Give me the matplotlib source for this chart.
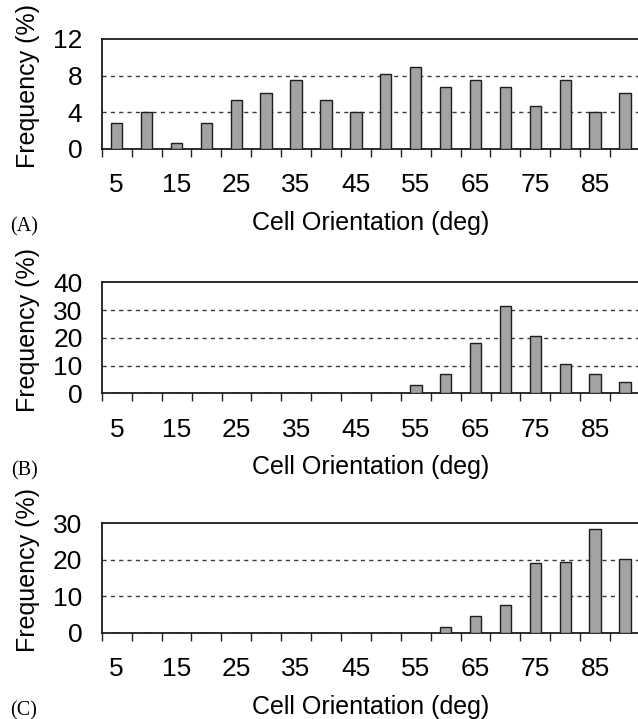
import matplotlib
matplotlib.use("Agg")
import matplotlib.pyplot as plt
import numpy as np

categories = [5, 10, 15, 20, 25, 30, 35, 40, 45, 50, 55, 60, 65, 70, 75, 80, 85, 90]
tick_labels = ["5", "15", "25", "35", "45", "55", "65", "75", "85"]

freq_a = [2.8, 4.0, 0.7, 2.8, 5.4, 6.1, 7.5, 5.4, 4.0, 8.2, 8.9, 6.8, 7.5, 6.8, 4.7, 7.5, 4.0, 6.1]
freq_b = [0, 0, 0, 0, 0, 0, 0, 0, 0, 0, 2.9, 6.9, 18.1, 31.6, 20.8, 10.4, 6.9, 3.9]
freq_c = [0, 0, 0, 0, 0, 0, 0, 0, 0, 0, 0, 1.5, 4.6, 7.6, 19.0, 19.5, 28.3, 20.3]

panels = [
    ("(A)", freq_a, 12, [0, 4, 8, 12], [4, 8]),
    ("(B)", freq_b, 40, [0, 10, 20, 30, 40], [10, 20, 30]),
    ("(C)", freq_c, 30, [0, 10, 20, 30], [10, 20]),
]

W, H = 638, 719
fig = plt.figure(figsize=(W / 100, H / 100), dpi=100)
sans = "Liberation Sans"
serif = "Liberation Serif"

# axes pixel geometry (left, right, top, bottom)
geo = [(101.7, 640.0, 39.0, 149.0), (102.0, 640.0, 282.3, 393.3), (101.7, 640.0, 523.3, 632.7)]

for (letter, vals, ymax, yticks, grids), (l, r, t, b) in zip(panels, geo):
    ax = fig.add_axes([l / W, 1 - b / H, (r - l) / W, (b - t) / H])
    x = np.arange(len(categories))
    ax.bar(x, vals, width=0.38, color="#a3a3a3", edgecolor="#1e1e1e", linewidth=1.0, zorder=3)
    for g in grids:
        ax.axhline(g, color="#3c3c3c", linewidth=1.0, linestyle=(0, (3, 3)), zorder=1)
    ax.set_xlim(-0.5, len(categories) - 0.5)
    ax.set_ylim(0, ymax)
    ax.set_yticks(yticks)
    ax.set_yticklabels([str(v) for v in yticks], fontsize=19, family=sans)
    ax.tick_params(axis="y", length=0, pad=14)
    ax.set_xticks(np.arange(-0.5, len(categories), 1.0))
    ax.set_xticklabels([])
    ax.tick_params(axis="x", which="major", length=6, width=1.0, direction="out", color="#222222")
    lab_pos = [categories.index(int(s)) for s in tick_labels]
    ax.set_xticks(lab_pos, minor=True)
    ax.set_xticklabels(tick_labels, minor=True, fontsize=19, family=sans)
    ax.tick_params(axis="x", which="minor", length=0, pad=17.5)
    for s in ax.spines.values():
        s.set_linewidth(1.3)
        s.set_color("#1a1a1a")
    ax.set_ylabel("Frequency (%)", fontsize=18, family=sans)
    ax.yaxis.label.set_va("center")
    ax.yaxis.set_label_coords(-(l - 28) / (r - l), 0.57)
    ax.set_xlabel("Cell Orientation (deg)", fontsize=18, family=sans)
    ax.xaxis.label.set_va("center")
    ax.xaxis.set_label_coords(0.5, -74 / (b - t))
    fig.text(24 / W, 1 - (b + 78) / H, letter, fontsize=14.5, family=serif, ha="center", va="center")

fig.savefig("out.png", dpi=100)
